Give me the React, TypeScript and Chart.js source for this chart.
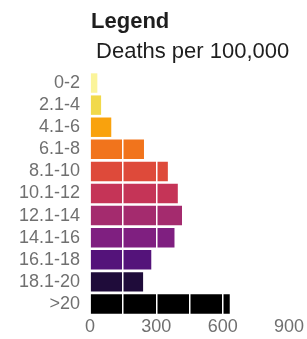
import React, { useEffect, useRef } from "react";
import { Chart, registerables } from "chart.js";

Chart.register(...registerables);

const categories = ["0-2", "2.1-4", "4.1-6", "6.1-8", "8.1-10", "10.1-12", "12.1-14", "14.1-16", "16.1-18", "18.1-20", ">20"];
const deaths = [33, 50, 96, 244, 352, 397, 416, 382, 277, 240, 632];
const barColors = ["#fbf49a", "#f1d94a", "#f9a20d", "#f1741c", "#de4a3a", "#c53457", "#a42b6e", "#7f1f80", "#54137a", "#1f0c3a", "#000000"];
const xTicks = [0, 300, 600, 900];
const titleText = "Legend";
const subtitleText = "Deaths per 100,000";

const FONT = "'Liberation Sans', Arial, Helvetica, sans-serif";

const titlePlugin = {
  id: "legendTitle",
  afterDraw(chart: any) {
    const ctx = chart.ctx;
    const left = chart.chartArea.left;
    ctx.save();
    ctx.fillStyle = "#1e1e1e";
    ctx.textBaseline = "alphabetic";
    ctx.textAlign = "left";
    ctx.font = `bold 22px ${FONT}`;
    ctx.fillText(titleText, left + 1, 28);
    ctx.font = `22px ${FONT}`;
    ctx.fillText(subtitleText, left + 6, 58);
    ctx.restore();
  },
};

export default function App() {
  const ref = useRef<HTMLCanvasElement>(null);
  useEffect(() => {
    document.body.style.margin = "0";
    const chart = new Chart(ref.current!, {
      type: "bar",
      data: {
        labels: categories,
        datasets: [
          {
            data: deaths,
            backgroundColor: barColors,
            borderWidth: 0,
            barPercentage: 0.88,
            categoryPercentage: 1,
          },
        ],
      },
      options: {
        indexAxis: "y",
        animation: false,
        responsive: false,
        maintainAspectRatio: false,
        layout: { padding: { top: 72, left: 9, right: 0, bottom: 0 } },
        plugins: { legend: { display: false }, tooltip: { enabled: false }, title: { display: false } },
        scales: {
          x: {
            min: 0,
            max: 900,
            border: { display: false },
            grid: { color: "#ffffff", lineWidth: 1.5, drawTicks: false, z: 1 },
            ticks: {
              stepSize: 150,
              padding: 3,
              maxRotation: 0,
              minRotation: 0,
              autoSkip: false,
              color: "#707070",
              font: { family: FONT, size: 18, lineHeight: 1 },
              callback: (v: any) => (xTicks.includes(Number(v)) ? String(v) : ""),
            },
          },
          y: {
            border: { display: false },
            grid: { display: false, drawTicks: false },
            ticks: { padding: 10, autoSkip: false, color: "#707070", font: { family: FONT, size: 18 } },
          },
        },
      },
      plugins: [titlePlugin],
    });
    return () => chart.destroy();
  }, []);
  return (
    <div style={{ width: 307, height: 339, background: "#fff" }}>
      <canvas ref={ref} width={307} height={339} style={{ display: "block" }} />
    </div>
  );
}
